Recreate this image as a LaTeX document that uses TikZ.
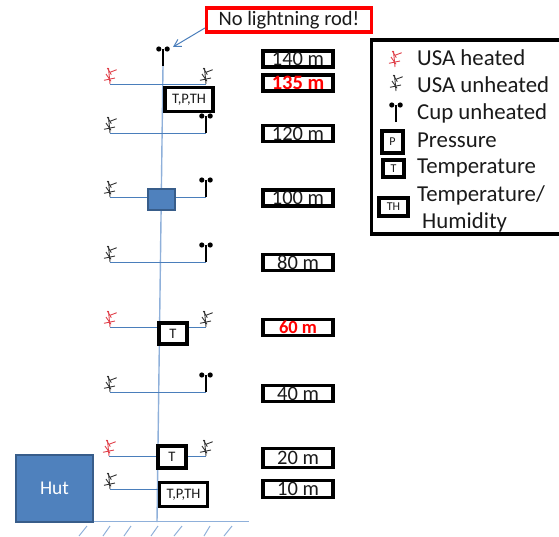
\documentclass[tikz,border=0pt]{standalone}
\usepackage{fontspec}
\setmainfont{Carlito}
\usetikzlibrary{arrows.meta}
\definecolor{wire}{HTML}{4A7EBB}
\definecolor{mastc}{HTML}{8FB0DA}
\definecolor{fillb}{HTML}{4F81BD}
\definecolor{edgeb}{HTML}{385D8A}
\definecolor{redc}{HTML}{E0404A}
\definecolor{ink}{HTML}{1A1A1A}
\definecolor{usagray}{HTML}{333333}
\tikzset{
  wireline/.style={draw=wire,line width=1pt},
  mastline/.style={draw=mastc,line width=1.4pt},
  boxed/.style={draw=black,fill=white,line width=3.2pt,inner sep=0pt,text=ink,font=\fontsize{14.5}{14.5}\selectfont},
  levelbox/.style={draw=black,fill=white,line width=3.2pt,inner sep=0pt,minimum width=70pt,minimum height=16pt,text=ink,font=\fontsize{20.5}{20.5}\selectfont},
  redlevel/.style={levelbox,text=red,font=\fontsize{20.5}{20.5}\selectfont\bfseries},
  legendtext/.style={anchor=west,inner sep=0pt,text=ink,font=\fontsize{22.8}{22.8}\selectfont},
  usa/.pic={
    \draw[line width=0.9pt,pic actions] (0,0) -- (-1.5,-16);
    \draw[line width=0.9pt,pic actions] (-2.7,-16) -- (1.3,-9.3);
    \draw[line width=0.9pt,pic actions] (0,-11.7) -- (6.7,-14.3);
    \draw[line width=0.9pt,pic actions] (-6,-3.7) -- (5,-6);
    \draw[line width=0.9pt,pic actions] (-4,-10) -- (1,-2.7);
  },
  cup/.pic={
    \draw[line width=1.7pt,black] (0,0) -- (0,-17);
    \fill[black] (-4.2,-17) circle (2.6) (4.2,-17) circle (2.6);
  }
}
\begin{document}
\begin{tikzpicture}[x=1pt,y=-1pt]
\useasboundingbox (0,0) rectangle (559,536);
% mast
\coordinate (mastT) at (163,66);
\coordinate (mastB) at (157,522);
\draw[mastline] (mastT) -- (mastB);
% ground
\coordinate (g1) at (94,521.5);
\coordinate (g2) at (249,521.5);
\draw[draw=mastc,line width=1pt] (g1) -- (g2);
\foreach \x/\y in {87/79,110/103,131/124,158/151,182/174,210/204,232/224}
  \draw[draw=mastc,line width=1pt] (\x,526) -- (\y,536);
% level wires
\foreach \n/\y/\xa/\xb in {a/84/110/206,b/133/110/206,c/197/110/206,d/262/110/206,e/327/110/206,f/392/110/206,g/456/109/206}{
  \coordinate (L\n) at (\xa,\y);
  \coordinate (R\n) at (\xb,\y);
  \draw[wireline] (L\n) -- (R\n);
}
\coordinate (Lh) at (110,489);
\coordinate (Rh) at (158,489);
\draw[wireline] (Lh) -- (Rh);
% top cup
\pic at (mastT) {cup};
% left sensors
\pic[draw=redc] at (La) {usa};
\pic[draw=usagray] at (Lb) {usa};
\pic[draw=usagray] at (Lc) {usa};
\pic[draw=usagray] at (Ld) {usa};
\pic[draw=redc] at (Le) {usa};
\pic[draw=usagray] at (Lf) {usa};
\pic[draw=redc] at (Lg) {usa};
\pic[draw=usagray] at (Lh) {usa};
% right sensors
\pic[draw=usagray] at (Ra) {usa};
\pic at (Rb) {cup};
\pic at (Rc) {cup};
\pic at (Rd) {cup};
\pic[draw=usagray] at (Re) {usa};
\pic at (Rf) {cup};
\pic[draw=usagray] at (Rg) {usa};
% instrument boxes
\node[boxed,minimum width=48pt,minimum height=24.5pt] (s135) at (189,99.5) {T,P,TH};
\node[draw=edgeb,fill=fillb,line width=2.4pt,inner sep=0pt,minimum width=27pt,minimum height=21pt] (s100) at (161.5,199.5) {};
\node[boxed,minimum width=28pt,minimum height=21pt] (s60) at (173,333.5) {T};
\node[boxed,minimum width=28pt,minimum height=22pt] (s20) at (172,457) {T};
\node[boxed,minimum width=48pt,minimum height=24pt] (s10) at (183.5,494.5) {T,P,TH};
% hut
\node[draw=edgeb,fill=fillb,line width=2.4pt,inner sep=0pt,minimum width=77pt,minimum height=67pt,text=white,font=\fontsize{19.5}{19.5}\selectfont] (hut) at (54.5,488.5) {Hut};
% height labels
\node[levelbox] (h140) at (298,59) {140 m};
\node[redlevel] (h135) at (298,83) {135 m};
\node[levelbox] (h120) at (298,133.5) {120 m};
\node[levelbox] (h100) at (298,198) {100 m};
\node[levelbox] (h80) at (298,262.5) {80 m};
\node[redlevel,font=\fontsize{18.5}{18.5}\selectfont\bfseries] (h60) at (298,327.5) {60 m};
\node[levelbox] (h40) at (298,393.5) {40 m};
\node[levelbox,minimum height=19pt] (h20) at (298,458) {20 m};
\node[levelbox,minimum height=17pt] (h10) at (298,489) {10 m};
% note
\node[draw=red,fill=white,line width=3.2pt,inner sep=0pt,minimum width=165pt,minimum height=24pt,text=ink,font=\fontsize{20.5}{20.5}\selectfont] (note) at (289,20) {No lightning rod!};
\coordinate (tip) at (173,47);
\draw[wireline,-{Straight Barb[length=7pt,width=8pt]}] ([yshift=-8pt]note.west) -- (tip);
% legend
\draw[black,line width=3.2pt,fill=white] (371.5,40) rectangle (570,234);
\pic[draw=redc] at (395,67) {usa};
\pic[draw=usagray] at (396,91) {usa};
\pic at (396,122) {cup};
\node[boxed,minimum width=21pt,minimum height=22pt,font=\fontsize{12}{12}\selectfont] (kp) at (392.5,142) {P};
\node[boxed,minimum width=21pt,minimum height=17pt,font=\fontsize{12}{12}\selectfont] (kt) at (393.5,168.5) {T};
\node[boxed,minimum width=29pt,minimum height=18pt,font=\fontsize{12}{12}\selectfont] (kth) at (393.5,207) {TH};
\node[legendtext] (t1) at (417,58) {USA heated};
\node[legendtext] (t2) at (417,85) {USA unheated};
\node[legendtext] (t3) at (417,113) {Cup unheated};
\node[legendtext] (t4) at (417,140) {Pressure};
\node[legendtext] (t5) at (417,168) {Temperature};
\node[legendtext] (t6) at (417,195) {Temperature/};
\node[legendtext] (t7) at (422,222) {Humidity};
\end{tikzpicture}
\end{document}
